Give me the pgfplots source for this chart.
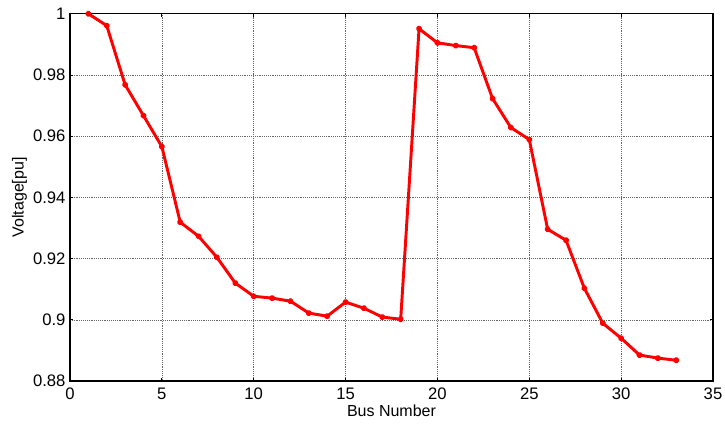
\documentclass[border=0pt]{standalone}
\usepackage{pgfplots}
\pgfplotsset{compat=1.18}
\usepackage{fontspec}
\setmainfont{Liberation Sans}
\begin{document}
\fontsize{12.5}{14}\selectfont
\begin{tikzpicture}
\useasboundingbox (-52.5pt,-36pt) rectangle (491.25pt,285.8pt);
\begin{axis}[
  scale only axis,
  width=482.25pt, height=275.5pt,
  xmin=0, xmax=35, ymin=0.88, ymax=1,
  xtick={0,5,...,35},
  ytick={0.88,0.9,0.92,0.94,0.96,0.98,1},
  /pgf/number format/assume math mode=true,
  /pgf/number format/fixed,
  /pgf/number format/precision=2,
  tick label style={font=\fontsize{12.5}{14}\selectfont},
  label style={font=\fontsize{12}{14}\selectfont},
  xlabel={Bus Number},
  ylabel={Voltage[pu]},
  xlabel style={yshift=5pt},
  ylabel style={yshift=-4pt},
  tick align=inside,
  major tick length=2.5pt,
  tick style={black, line width=0.6pt},
  xtick pos=both, ytick pos=both,
  grid=major,
  major grid style={gray!80!black, densely dotted, line width=0.5pt},
  axis line style={black, line width=0.9pt},
  xticklabel style={yshift=-1pt},
  yticklabel style={xshift=1pt},
]
\addplot[red, line width=2.2pt, mark=*, mark size=1.3pt, line join=round] coordinates {
(1,1.0000) (2,0.9961) (3,0.9768) (4,0.9667) (5,0.9566)
(6,0.9319) (7,0.9273) (8,0.9204) (9,0.9120) (10,0.9077)
(11,0.9071) (12,0.9061) (13,0.9022) (14,0.9012) (15,0.9058)
(16,0.9038) (17,0.9009) (18,0.9002) (19,0.9951) (20,0.9905)
(21,0.9896) (22,0.9889) (23,0.9723) (24,0.9628) (25,0.9589)
(26,0.9296) (27,0.9260) (28,0.9103) (29,0.8989) (30,0.8940)
(31,0.8885) (32,0.8875) (33,0.8868)
};
\end{axis}
\end{tikzpicture}
\end{document}
